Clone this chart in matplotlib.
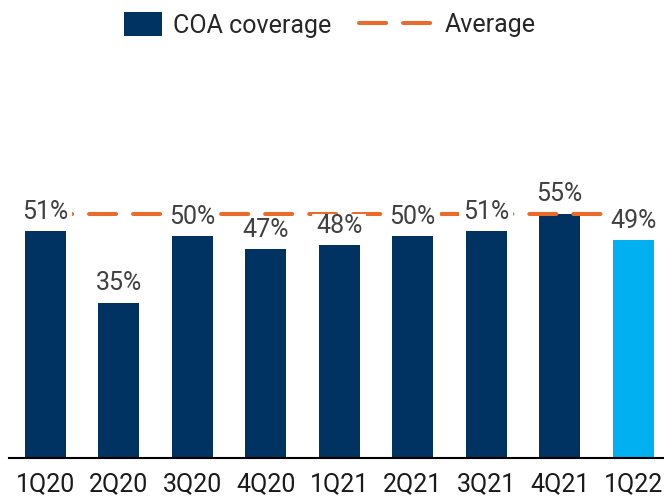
import matplotlib
matplotlib.use("Agg")
import matplotlib.pyplot as plt
from matplotlib.patches import Patch, Rectangle
from matplotlib.lines import Line2D

categories = ["1Q20", "2Q20", "3Q20", "4Q20", "1Q21", "2Q21", "3Q21", "4Q21", "1Q22"]
coverage = [51, 35, 50, 47, 48, 50, 51, 55, 49]
average_level = 55.0
labels = ["51%", "35%", "50%", "47%", "48%", "50%", "51%", "55%", "49%"]

NAVY = "#003262"
LIGHT = "#00B0F0"
ORANGE = "#EC6A2A"
FS = 18
DPI = 100

plt.rcParams["font.family"] = ["Roboto", "DejaVu Sans"]
plt.rcParams["lines.scale_dashes"] = False

fig = plt.figure(figsize=(6.64, 4.96), dpi=DPI)
ax = fig.add_axes([8.5 / 664, 1 - 458 / 496, 1 - 8.5 / 664, 355.4 / 496])

x = list(range(len(categories)))
colors = [NAVY] * (len(categories) - 1) + [LIGHT]
ax.bar(x, coverage, width=0.56, color=colors, zorder=2)

dash = (19.5, 12.2)
ax.plot([x[0], x[-1]], [average_level, average_level], color=ORANGE, lw=2.9,
        dashes=dash, dash_capstyle="round", zorder=3)

offset_pt = 8.8
texts = []
for xi, v, lab in zip(x, coverage, labels):
    t = ax.annotate(lab, (xi, v), xytext=(0, offset_pt), textcoords="offset points",
                    ha="center", va="baseline", fontsize=FS, color="#404040",
                    zorder=5)
    texts.append((t, xi, v))

ax.set_xlim(-0.5, 8.42)
ax.set_ylim(0, 80)
ax.set_xticks(x)
ax.set_xticklabels(categories, fontsize=FS, color="#1a1a1a")
ax.tick_params(axis="x", length=0, pad=10.5)
ax.set_yticks([])
for s in ["left", "right", "top"]:
    ax.spines[s].set_visible(False)
ax.spines["bottom"].set_linewidth(1.5)
ax.spines["bottom"].set_color("black")
ax.spines["bottom"].set_zorder(4)

# white backgrounds behind the value labels, tight to the glyph height
fig.canvas.draw()
renderer = fig.canvas.get_renderer()
fs_px = FS * DPI / 72.0
inv = fig.transFigure.inverted()
for t, xi, v in texts:
    bb = t.get_window_extent(renderer)
    base = ax.transData.transform((xi, v))[1] + offset_pt * DPI / 72.0
    x0, x1 = bb.x0 - 4, bb.x1 + 4
    y0, y1 = base - 2, base + 0.72 * fs_px + 1
    (fx0, fy0) = inv.transform((x0, y0))
    (fx1, fy1) = inv.transform((x1, y1))
    r = Rectangle((fx0, fy0), fx1 - fx0, fy1 - fy0, transform=fig.transFigure,
                  facecolor="white", edgecolor="none", zorder=4)
    ax.add_artist(r)
    r.set_transform(fig.transFigure)
    r.set_clip_on(False)

h1 = Patch(facecolor=NAVY, edgecolor="none")
leg1 = fig.legend([h1], ["COA coverage"], loc="center left",
                  bbox_to_anchor=(124 / 664, 1 - 25 / 496), frameon=False,
                  fontsize=FS, handlelength=1.52, handleheight=1.08,
                  handletextpad=0.44, borderpad=0, borderaxespad=0)
for tt in leg1.get_texts():
    tt.set_color("#262626")
h2 = Line2D([], [], color=ORANGE, lw=2.9, dashes=dash, dash_capstyle="round")
leg2 = fig.legend([h2], ["Average"], loc="center left",
                  bbox_to_anchor=(359 / 664, 1 - 25 / 496), frameon=False,
                  fontsize=FS, handlelength=3.0,
                  handletextpad=0.44, borderpad=0, borderaxespad=0)
for tt in leg2.get_texts():
    tt.set_color("#262626")

fig.savefig("out.png", dpi=DPI)
